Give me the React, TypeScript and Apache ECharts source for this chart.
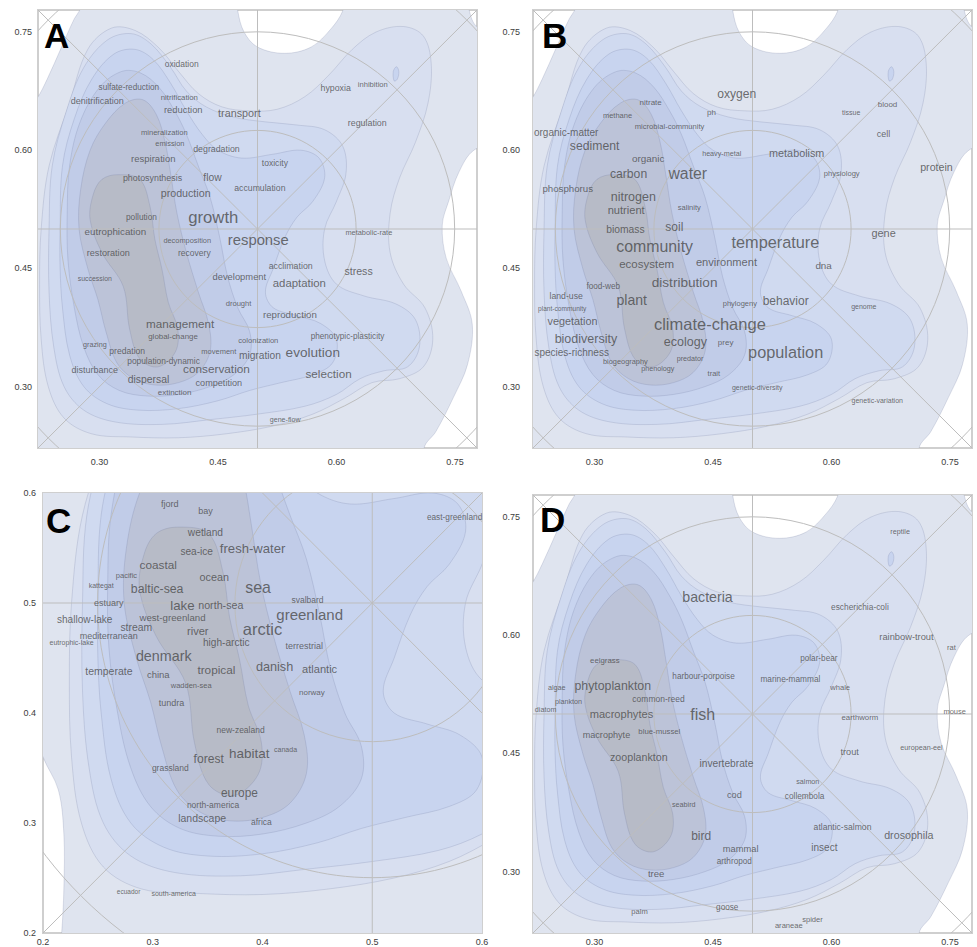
import React, { useEffect, useRef } from "react";
import * as echarts from "echarts";

const FONT = "'Liberation Sans', Arial, Helvetica, sans-serif";

// ---------- axes ----------
const RANGE_ABD = [0.222, 0.778];
const RANGE_C = [0.2, 0.6];
const TICKS_ABD = [0.3, 0.45, 0.6, 0.75];
const TICKS_C = [0.2, 0.3, 0.4, 0.5, 0.6];

// ---------- decoration (center cross, diagonals, rings) ----------
const CENTER = [0.5, 0.5];
const CIRCLE_RADII = [0.125, 0.25, 0.375];
const GUIDE_LINES = [
  [[0.5, -1], [0.5, 2]],
  [[-1, 0.5], [2, 0.5]],
  [[-1, -1], [2, 2]],
  [[-1, 2], [2, -1]],
];

// ---------- density contours (outer -> inner) ----------
const CONTOUR_1 = [
  [0.15, 0.12], [0.70, 0.12], [0.711, 0.222], [0.726, 0.243], [0.748, 0.286], [0.766, 0.328],
  [0.772, 0.379], [0.758, 0.421], [0.739, 0.463], [0.734, 0.505], [0.742, 0.535], [0.755, 0.572],
  [0.774, 0.60], [0.82, 0.62], [0.82, 0.745], [0.779, 0.756], [0.768, 0.778], [0.762, 0.82],
  [0.62, 0.82], [0.608, 0.777], [0.593, 0.754], [0.568, 0.731], [0.534, 0.723], [0.50, 0.731],
  [0.483, 0.75], [0.475, 0.777], [0.47, 0.82], [0.29, 0.82], [0.275, 0.778], [0.268, 0.767],
  [0.251, 0.729], [0.234, 0.691], [0.221, 0.666], [0.195, 0.63], [0.18, 0.55], [0.18, 0.42],
  [0.20, 0.36], [0.214, 0.33], [0.219, 0.29], [0.219, 0.24], [0.217, 0.2], [0.21, 0.12],
];
const CONTOUR_2 = [
  [0.262, 0.66], [0.285, 0.728], [0.315, 0.755], [0.345, 0.752], [0.375, 0.73], [0.40, 0.70],
  [0.425, 0.672], [0.455, 0.655], [0.49, 0.65], [0.525, 0.652], [0.56, 0.668], [0.59, 0.695],
  [0.62, 0.728], [0.65, 0.75], [0.685, 0.757], [0.71, 0.745], [0.72, 0.71], [0.716, 0.66],
  [0.70, 0.61], [0.68, 0.565], [0.668, 0.52], [0.668, 0.47], [0.685, 0.43], [0.712, 0.40],
  [0.722, 0.36], [0.71, 0.325], [0.68, 0.31], [0.645, 0.305], [0.61, 0.285], [0.57, 0.265],
  [0.52, 0.25], [0.46, 0.24], [0.40, 0.235], [0.34, 0.236], [0.29, 0.24], [0.255, 0.26],
  [0.235, 0.30], [0.226, 0.36], [0.224, 0.43], [0.226, 0.50], [0.236, 0.58],
];
const CONTOUR_3 = [
  [0.236, 0.50], [0.24, 0.58], [0.258, 0.65], [0.28, 0.705], [0.31, 0.74], [0.34, 0.748],
  [0.365, 0.735], [0.39, 0.705], [0.41, 0.675], [0.435, 0.655], [0.47, 0.642], [0.51, 0.636],
  [0.55, 0.632], [0.585, 0.626], [0.608, 0.605], [0.612, 0.57], [0.60, 0.535], [0.585, 0.50],
  [0.585, 0.46], [0.60, 0.43], [0.635, 0.415], [0.675, 0.405], [0.70, 0.385], [0.705, 0.35],
  [0.69, 0.325], [0.66, 0.32], [0.63, 0.31], [0.60, 0.29], [0.56, 0.275], [0.50, 0.265],
  [0.44, 0.258], [0.38, 0.252], [0.32, 0.255], [0.28, 0.27], [0.255, 0.30], [0.242, 0.35],
  [0.236, 0.42],
];
const CONTOUR_3_ISLAND = [
  [0.672, 0.70], [0.676, 0.706], [0.679, 0.70], [0.677, 0.69], [0.673, 0.688],
];
const CONTOUR_4 = [
  [0.25, 0.50], [0.253, 0.58], [0.268, 0.64], [0.29, 0.69], [0.318, 0.722], [0.345, 0.728],
  [0.368, 0.715], [0.39, 0.685], [0.41, 0.65], [0.43, 0.62], [0.45, 0.60], [0.48, 0.59],
  [0.52, 0.595], [0.555, 0.60], [0.578, 0.59], [0.585, 0.565], [0.57, 0.535], [0.55, 0.515],
  [0.535, 0.49], [0.52, 0.45], [0.51, 0.42], [0.52, 0.40], [0.55, 0.39], [0.58, 0.38],
  [0.60, 0.36], [0.595, 0.33], [0.57, 0.315], [0.53, 0.305], [0.49, 0.295], [0.45, 0.282],
  [0.40, 0.272], [0.35, 0.27], [0.31, 0.278], [0.28, 0.30], [0.262, 0.34], [0.253, 0.40],
  [0.25, 0.45],
];
const CONTOUR_5 = [
  [0.259, 0.52], [0.262, 0.58], [0.275, 0.635], [0.30, 0.68], [0.328, 0.70], [0.352, 0.698],
  [0.375, 0.68], [0.395, 0.65], [0.41, 0.62], [0.425, 0.58], [0.44, 0.54], [0.452, 0.49],
  [0.462, 0.44], [0.475, 0.40], [0.49, 0.37], [0.49, 0.34], [0.47, 0.315], [0.44, 0.30],
  [0.40, 0.29], [0.36, 0.288], [0.325, 0.295], [0.298, 0.315], [0.28, 0.35], [0.268, 0.40],
  [0.26, 0.46],
];
const CONTOUR_6 = [
  [0.274, 0.50], [0.276, 0.55], [0.288, 0.60], [0.308, 0.635], [0.333, 0.66], [0.355, 0.664],
  [0.372, 0.645], [0.383, 0.61], [0.39, 0.57], [0.398, 0.52], [0.41, 0.47], [0.425, 0.42],
  [0.438, 0.38], [0.44, 0.345], [0.425, 0.318], [0.40, 0.305], [0.37, 0.302], [0.343, 0.31],
  [0.322, 0.33], [0.308, 0.37], [0.298, 0.41], [0.285, 0.45],
];
const CONTOUR_7 = [
  [0.303, 0.563], [0.323, 0.569], [0.351, 0.563], [0.364, 0.528], [0.370, 0.487], [0.379, 0.449],
  [0.387, 0.407], [0.399, 0.373], [0.396, 0.344], [0.374, 0.325], [0.351, 0.335], [0.338, 0.373],
  [0.330, 0.427], [0.303, 0.470], [0.288, 0.512], [0.292, 0.544],
];
const CONTOURS = [CONTOUR_1, CONTOUR_2, CONTOUR_3, CONTOUR_3_ISLAND, CONTOUR_4, CONTOUR_5, CONTOUR_6, CONTOUR_7];
const CONTOUR_COLORS = ["#dfe4ef", "#d8dff0", "#d0daf0", "#c8d4ef", "#c8d4ef", "#c1cce8", "#bcc3d8", "#b7bbc7"];

// ---------- words: [term, x, y, fontSize] ----------
const WORDS_A = [
  ["oxidation", 0.404, 0.71, 8.5], ["sulfate-reduction", 0.337, 0.679, 8.2], ["nitrification", 0.401, 0.667, 7.8],
  ["denitrification", 0.297, 0.663, 9], ["reduction", 0.406, 0.652, 9.4], ["transport", 0.477, 0.647, 10.8],
  ["hypoxia", 0.599, 0.679, 8.8], ["inhibition", 0.646, 0.684, 7.6], ["regulation", 0.639, 0.635, 8.9],
  ["mineralization", 0.382, 0.623, 7.6], ["emission", 0.389, 0.609, 7.4], ["degradation", 0.448, 0.601, 8.8],
  ["respiration", 0.368, 0.589, 9.5], ["toxicity", 0.522, 0.584, 8.6], ["photosynthesis", 0.367, 0.565, 8.9],
  ["flow", 0.443, 0.565, 10.3], ["accumulation", 0.503, 0.552, 8.7], ["production", 0.409, 0.546, 10.7],
  ["pollution", 0.353, 0.515, 8.3], ["growth", 0.444, 0.514, 16.7], ["eutrophication", 0.32, 0.497, 9.8],
  ["decomposition", 0.411, 0.486, 7.4], ["response", 0.501, 0.486, 14.8], ["metabolic-rate", 0.641, 0.495, 7.4],
  ["restoration", 0.311, 0.47, 9.1], ["recovery", 0.42, 0.47, 8.5], ["succession", 0.294, 0.437, 6.9],
  ["acclimation", 0.542, 0.453, 8.8], ["development", 0.477, 0.44, 9.4], ["adaptation", 0.553, 0.432, 11.4],
  ["stress", 0.628, 0.447, 10.6], ["drought", 0.476, 0.405, 7.6], ["reproduction", 0.541, 0.391, 9.7],
  ["management", 0.402, 0.38, 11.7], ["global-change", 0.393, 0.364, 7.9], ["phenotypic-plasticity", 0.614, 0.363, 8.2],
  ["grazing", 0.294, 0.354, 7.2], ["colonization", 0.501, 0.358, 7.6], ["predation", 0.335, 0.345, 8.6],
  ["movement", 0.451, 0.345, 7.5], ["migration", 0.503, 0.339, 10.2], ["evolution", 0.57, 0.343, 13.6],
  ["population-dynamic", 0.381, 0.333, 8.4], ["disturbance", 0.294, 0.321, 9], ["conservation", 0.448, 0.322, 11.8],
  ["dispersal", 0.362, 0.309, 10.4], ["competition", 0.451, 0.305, 9.1], ["selection", 0.59, 0.316, 11.7],
  ["extinction", 0.395, 0.292, 8], ["gene-flow", 0.535, 0.258, 7.1],
];
const WORDS_B = [
  ["oxygen", 0.48, 0.671, 12.1], ["nitrate", 0.371, 0.66, 8], ["methane", 0.329, 0.644, 7.5],
  ["ph", 0.448, 0.648, 8], ["tissue", 0.625, 0.648, 7], ["blood", 0.671, 0.658, 8],
  ["microbial-community", 0.395, 0.63, 7.6], ["organic-matter", 0.264, 0.623, 10], ["cell", 0.666, 0.62, 9],
  ["sediment", 0.3, 0.605, 12.2], ["heavy-metal", 0.461, 0.596, 7.2], ["metabolism", 0.556, 0.596, 10.8],
  ["organic", 0.368, 0.589, 9.9], ["physiology", 0.613, 0.571, 7.6], ["protein", 0.733, 0.579, 10.7],
  ["carbon", 0.343, 0.57, 12.2], ["water", 0.418, 0.57, 15.8], ["phosphorus", 0.266, 0.551, 9.7],
  ["nitrogen", 0.349, 0.541, 12.5], ["nutrient", 0.34, 0.524, 11.1], ["salinity", 0.42, 0.527, 7.5],
  ["biomass", 0.339, 0.5, 10.3], ["soil", 0.401, 0.503, 12], ["gene", 0.666, 0.495, 10.9],
  ["community", 0.376, 0.478, 15.9], ["temperature", 0.529, 0.484, 16.3], ["ecosystem", 0.366, 0.456, 11.5],
  ["environment", 0.467, 0.458, 11.1], ["dna", 0.59, 0.454, 9.8], ["food-web", 0.311, 0.427, 8.2],
  ["distribution", 0.414, 0.432, 13.6], ["land-use", 0.264, 0.415, 8.7], ["plant", 0.347, 0.41, 14.1],
  ["plant-community", 0.259, 0.399, 6.6], ["phylogeny", 0.484, 0.406, 7.5], ["behavior", 0.542, 0.408, 12],
  ["genome", 0.641, 0.401, 7], ["vegetation", 0.272, 0.383, 10.8], ["climate-change", 0.446, 0.38, 16.5],
  ["biodiversity", 0.289, 0.361, 12.5], ["ecology", 0.415, 0.356, 12.5], ["prey", 0.466, 0.356, 8],
  ["population", 0.542, 0.344, 16.3], ["species-richness", 0.271, 0.343, 10], ["biogeography", 0.339, 0.332, 7.4],
  ["predator", 0.421, 0.335, 7.2], ["phenology", 0.38, 0.323, 7.2], ["trait", 0.451, 0.316, 7.5],
  ["genetic-diversity", 0.506, 0.299, 7], ["genetic-variation", 0.658, 0.282, 7],
];
const WORDS_C = [
  ["fjord", 0.3155, 0.59, 9.1], ["bay", 0.348, 0.584, 9], ["east-greenland", 0.575, 0.578, 8.3],
  ["wetland", 0.348, 0.564, 10.2], ["sea-ice", 0.34, 0.547, 10.1], ["fresh-water", 0.391, 0.55, 13.1],
  ["coastal", 0.305, 0.535, 11.8], ["pacific", 0.276, 0.525, 7.5], ["ocean", 0.356, 0.524, 10.8],
  ["kattegat", 0.253, 0.516, 7], ["baltic-sea", 0.304, 0.513, 12.3], ["sea", 0.396, 0.514, 15.9],
  ["estuary", 0.26, 0.5, 9], ["lake", 0.327, 0.498, 13.3], ["north-sea", 0.362, 0.498, 10.7],
  ["svalbard", 0.441, 0.503, 8.5], ["shallow-lake", 0.238, 0.485, 10.1], ["west-greenland", 0.318, 0.487, 9.7],
  ["greenland", 0.443, 0.49, 15], ["stream", 0.285, 0.478, 10.4], ["river", 0.341, 0.475, 11.1],
  ["arctic", 0.4, 0.476, 16.5], ["mediterranean", 0.26, 0.47, 9], ["eutrophic-lake", 0.226, 0.464, 7],
  ["high-arctic", 0.367, 0.464, 10.1], ["terrestrial", 0.438, 0.461, 9], ["denmark", 0.31, 0.452, 14.3],
  ["danish", 0.411, 0.442, 12.7], ["atlantic", 0.452, 0.44, 11.1], ["temperate", 0.26, 0.438, 10.5],
  ["china", 0.305, 0.435, 9.5], ["tropical", 0.358, 0.439, 11.8], ["wadden-sea", 0.335, 0.425, 7.5],
  ["norway", 0.445, 0.419, 8], ["tundra", 0.317, 0.409, 9], ["new-zealand", 0.38, 0.385, 8.5],
  ["canada", 0.421, 0.367, 7], ["forest", 0.351, 0.358, 12.1], ["habitat", 0.388, 0.363, 13.5],
  ["grassland", 0.316, 0.35, 8.5], ["europe", 0.379, 0.327, 11.9], ["north-america", 0.355, 0.316, 8.5],
  ["landscape", 0.345, 0.305, 10.5], ["africa", 0.399, 0.301, 8.5], ["ecuador", 0.278, 0.238, 6.5],
  ["south-america", 0.319, 0.236, 7],
];
const WORDS_D = [
  ["reptile", 0.687, 0.732, 7.2], ["bacteria", 0.443, 0.649, 14.2], ["escherichia-coli", 0.636, 0.636, 8.4],
  ["rainbow-trout", 0.695, 0.598, 9.3], ["rat", 0.752, 0.584, 7.5], ["polar-bear", 0.584, 0.571, 8.2],
  ["eelgrass", 0.313, 0.568, 7.8], ["harbour-porpoise", 0.438, 0.547, 8.2], ["marine-mammal", 0.548, 0.544, 8.3],
  ["algae", 0.252, 0.534, 7.2], ["phytoplankton", 0.323, 0.535, 12.3], ["whale", 0.611, 0.534, 7.6],
  ["plankton", 0.267, 0.516, 7.2], ["common-reed", 0.381, 0.519, 8.5], ["diatom", 0.238, 0.506, 7.2],
  ["mouse", 0.756, 0.503, 7.5], ["macrophytes", 0.334, 0.5, 11.1], ["fish", 0.437, 0.499, 16],
  ["earthworm", 0.636, 0.495, 7.8], ["macrophyte", 0.315, 0.473, 9.1], ["blue-mussel", 0.382, 0.478, 7.8],
  ["zooplankton", 0.356, 0.446, 10.7], ["trout", 0.623, 0.452, 9.2], ["european-eel", 0.714, 0.457, 7.2],
  ["invertebrate", 0.467, 0.437, 10.2], ["salmon", 0.57, 0.414, 7.2], ["cod", 0.477, 0.397, 9.2],
  ["collembola", 0.566, 0.396, 8.3], ["seabird", 0.413, 0.385, 7.2], ["atlantic-salmon", 0.614, 0.357, 8.6],
  ["drosophila", 0.698, 0.347, 10.7], ["bird", 0.435, 0.345, 12], ["mammal", 0.485, 0.329, 9.3],
  ["insect", 0.591, 0.33, 10], ["arthropod", 0.477, 0.313, 8.2], ["tree", 0.378, 0.297, 9.6],
  ["palm", 0.357, 0.249, 7.6], ["goose", 0.468, 0.254, 8.2], ["spider", 0.576, 0.239, 7.6],
  ["araneae", 0.546, 0.231, 7.6],
];

const PANELS = [
  { letter: "A", words: WORDS_A, range: RANGE_ABD, ticks: TICKS_ABD, digits: 2, grid: { left: 38, top: 10, width: 439, height: 438 }, xMargin: 9, yMargin: 6, letterPos: [44, 35] },
  { letter: "B", words: WORDS_B, range: RANGE_ABD, ticks: TICKS_ABD, digits: 2, grid: { left: 533, top: 10, width: 439, height: 438 }, xMargin: 9, yMargin: 13, letterPos: [542, 35] },
  { letter: "C", words: WORDS_C, range: RANGE_C, ticks: TICKS_C, digits: 1, grid: { left: 43, top: 493, width: 439, height: 440 }, xMargin: 4, yMargin: 7, letterPos: [46, 520] },
  { letter: "D", words: WORDS_D, range: RANGE_ABD, ticks: TICKS_ABD, digits: 2, grid: { left: 533, top: 495, width: 439, height: 438 }, xMargin: 4, yMargin: 13, letterPos: [540, 519] },
];

const GUIDE_COLOR = "#bdbdbd";

function contourRender(params: any, api: any) {
  const idx = api.value(2);
  const pts = CONTOURS[idx].map((p) => api.coord(p));
  return {
    type: "polygon",
    shape: { points: pts, smooth: 0.35 },
    style: { fill: CONTOUR_COLORS[idx], stroke: "rgba(105,115,150,0.26)", lineWidth: 0.8 },
  };
}

function guideRender(params: any, api: any) {
  const c = api.coord(CENTER);
  const children: any[] = [];
  CIRCLE_RADII.forEach((r) => {
    const rp = api.size([r, r]);
    children.push({
      type: "circle",
      shape: { cx: c[0], cy: c[1], r: (rp[0] + rp[1]) / 2 },
      style: { fill: "none", stroke: GUIDE_COLOR, lineWidth: 1 },
    });
  });
  GUIDE_LINES.forEach((seg) => {
    const a = api.coord(seg[0]);
    const b = api.coord(seg[1]);
    children.push({
      type: "line",
      shape: { x1: a[0], y1: a[1], x2: b[0], y2: b[1] },
      style: { stroke: GUIDE_COLOR, lineWidth: 1 },
    });
  });
  return { type: "group", children };
}

export default function App() {
  const ref = useRef<HTMLDivElement>(null);
  useEffect(() => {
    if (!ref.current) return;
    const chart = echarts.init(ref.current, null, { renderer: "svg" });
    const grid: any[] = [];
    const xAxis: any[] = [];
    const yAxis: any[] = [];
    const series: any[] = [];
    const graphic: any[] = [];
    PANELS.forEach((p, i) => {
      grid.push({ ...p.grid, show: true, borderColor: "#cfcfcf", borderWidth: 2, backgroundColor: "transparent" });
      const axisCommon = (margin: number) => ({
        type: "value",
        min: p.range[0],
        max: p.range[1],
        gridIndex: i,
        axisLine: { show: false },
        axisTick: { show: false },
        splitLine: { show: false },
        axisLabel: {
          customValues: p.ticks,
          formatter: (v: number) => v.toFixed(p.digits),
          fontSize: 9,
          color: "#3c3c3c",
          fontFamily: FONT,
          margin,
        },
      });
      xAxis.push(axisCommon(p.xMargin));
      yAxis.push(axisCommon(p.yMargin));
      series.push({
        type: "custom",
        xAxisIndex: i,
        yAxisIndex: i,
        clip: true,
        silent: true,
        z: 1,
        renderItem: contourRender,
        data: CONTOURS.map((_, k) => [0.5, 0.5, k]),
      });
      series.push({
        type: "custom",
        xAxisIndex: i,
        yAxisIndex: i,
        clip: true,
        silent: true,
        z: 2,
        renderItem: guideRender,
        data: [[CENTER[0], CENTER[1], 0]],
      });
      series.push({
        type: "scatter",
        xAxisIndex: i,
        yAxisIndex: i,
        silent: true,
        z: 3,
        symbolSize: 1,
        itemStyle: { color: "rgba(0,0,0,0)" },
        label: {
          show: true,
          position: "inside",
          formatter: "{b}",
          color: "#4a4a4a",
          textBorderWidth: 0,
          fontFamily: FONT,
        },
        data: p.words.map((w: any) => ({
          name: w[0],
          value: [w[1], w[2]],
          label: { fontSize: w[3] },
        })),
      });
      graphic.push({
        type: "text",
        x: p.letterPos[0],
        y: p.letterPos[1],
        z: 10,
        silent: true,
        style: {
          text: p.letter,
          fontSize: 35,
          fontWeight: "bold",
          fontFamily: FONT,
          fill: "#000",
          verticalAlign: "middle",
          align: "left",
        },
      });
    });
    chart.setOption({
      animation: false,
      backgroundColor: "#ffffff",
      grid,
      xAxis,
      yAxis,
      series,
      graphic,
    });
    return () => chart.dispose();
  }, []);
  return (
    <div
      ref={ref}
      style={{ position: "absolute", left: 0, top: 0, width: 977, height: 947 }}
    />
  );
}
